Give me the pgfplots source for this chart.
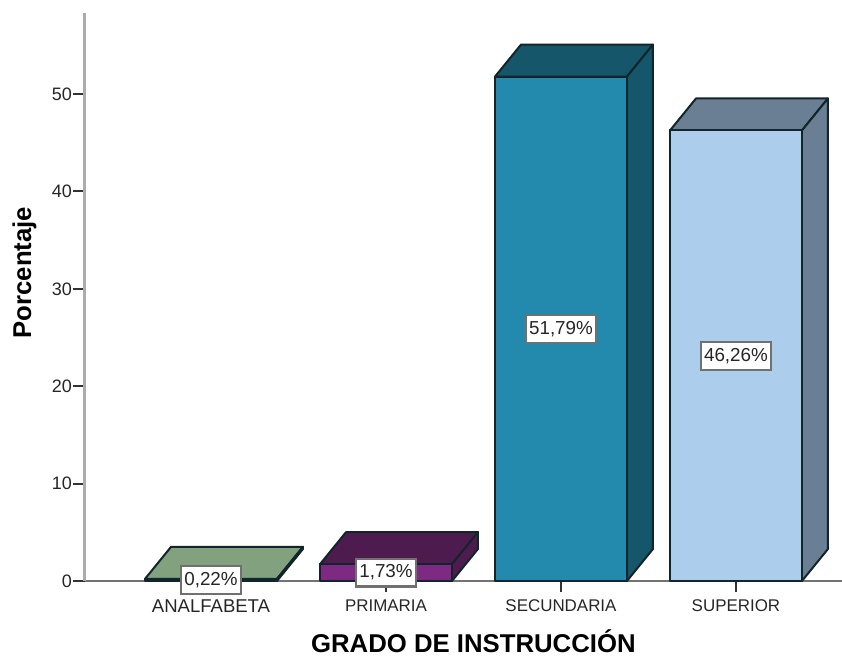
\documentclass[border=0pt]{standalone}
\usepackage{pgfplots}
\pgfplotsset{compat=1.18}
\usepackage{fontspec}
\setmainfont{Liberation Sans}
\definecolor{gf}{HTML}{86A583}\definecolor{gt}{HTML}{82A17F}
\definecolor{pf}{HTML}{7F2A82}\definecolor{pt}{HTML}{4E1B4E}
\definecolor{sf}{HTML}{2389AD}\definecolor{st}{HTML}{16566B}
\definecolor{uf}{HTML}{ACCEEC}\definecolor{ut}{HTML}{6A7F93}
\definecolor{edge}{HTML}{12252B}
\definecolor{lbl}{HTML}{707070}
\tikzset{lab/.style={fill=white,draw=lbl,line width=1.6pt,inner xsep=2.6pt,inner ysep=4.6pt,text=black!85,font=\fontsize{14.1pt}{16pt}\selectfont}}
\begin{document}
\begin{tikzpicture}[x=1pt,y=1pt]
\useasboundingbox (0,0) rectangle (631.5,492);
\begin{axis}[
  at={(63.375pt,56.25pt)},anchor=south west,
  scale only axis,width=568.125pt,height=426pt,
  xmin=-0.7229,xmax=3.606,ymin=0,ymax=58.32,
  clip=false,
  axis lines=left,
  axis line style={-},
  x axis line style={draw=black!55,line width=0.9pt},
  y axis line style={draw=black!33,line width=2.2pt},
  xtick={0,1,2,3},
  xticklabels={{\fontsize{13.9pt}{15pt}\selectfont ANALFABETA},PRIMARIA,SECUNDARIA,SUPERIOR},
  ytick={0,10,20,30,40,50},
  tick align=outside,
  major tick length=8.5pt,
  tick style={draw=black!80,line width=1.4pt},
  /pgf/number format/assume math mode=true,
  tick label style={text=black!85},
  yticklabel style={font=\fontsize{13.5pt}{15pt}\selectfont,xshift=2.5pt},
  xticklabel style={font=\fontsize{12.7pt}{15pt}\selectfont,yshift=-2pt},
  xlabel={GRADO DE INSTRUCCIÓN},
  ylabel={Porcentaje},
  label style={font=\bfseries\fontsize{19.3pt}{22pt}\selectfont},
  xlabel style={at={(axis description cs:0.5134,0)},anchor=base,yshift=-53.5pt},
  ylabel style={at={(axis description cs:0,0.543)},anchor=base,yshift=40pt},
  every axis plot/.append style={draw=edge,line width=1.5pt,line join=round,mark=none},
]
% ANALFABETA 0.22
\addplot[fill=gt] coordinates {(-0.377,0.22) (-0.2284,3.505) (0.5256,3.505) (0.377,0.22)} -- cycle;
\addplot[fill=gt] coordinates {(0.377,0.22) (0.5256,3.505) (0.5256,3.285) (0.377,0)} -- cycle;
\addplot[ybar,bar width=99pt,bar shift=0pt,fill=gf] coordinates {(0,0.22)};
% PRIMARIA 1.73
\addplot[fill=pt] coordinates {(0.623,1.73) (0.7716,5.015) (1.5256,5.015) (1.377,1.73)} -- cycle;
\addplot[fill=pt] coordinates {(1.377,1.73) (1.5256,5.015) (1.5256,3.285) (1.377,0)} -- cycle;
\addplot[ybar,bar width=99pt,bar shift=0pt,fill=pf] coordinates {(1,1.73)};
% SECUNDARIA 51.79
\addplot[fill=st] coordinates {(1.623,51.79) (1.7716,55.075) (2.5256,55.075) (2.377,51.79)} -- cycle;
\addplot[fill=st] coordinates {(2.377,51.79) (2.5256,55.075) (2.5256,3.285) (2.377,0)} -- cycle;
\addplot[ybar,bar width=99pt,bar shift=0pt,fill=sf] coordinates {(2,51.79)};
% SUPERIOR 46.26
\addplot[fill=ut] coordinates {(2.623,46.26) (2.7716,49.545) (3.5256,49.545) (3.377,46.26)} -- cycle;
\addplot[fill=ut] coordinates {(3.377,46.26) (3.5256,49.545) (3.5256,3.285) (3.377,0)} -- cycle;
\addplot[ybar,bar width=99pt,bar shift=0pt,fill=uf] coordinates {(3,46.26)};
\node[lab] at (axis cs:0,0.11) {0,22\%};
\node[lab] at (axis cs:1,0.865) {1,73\%};
\node[lab] at (axis cs:2,25.895) {51,79\%};
\node[lab] at (axis cs:3,23.13) {46,26\%};
\end{axis}
\end{tikzpicture}
\end{document}
